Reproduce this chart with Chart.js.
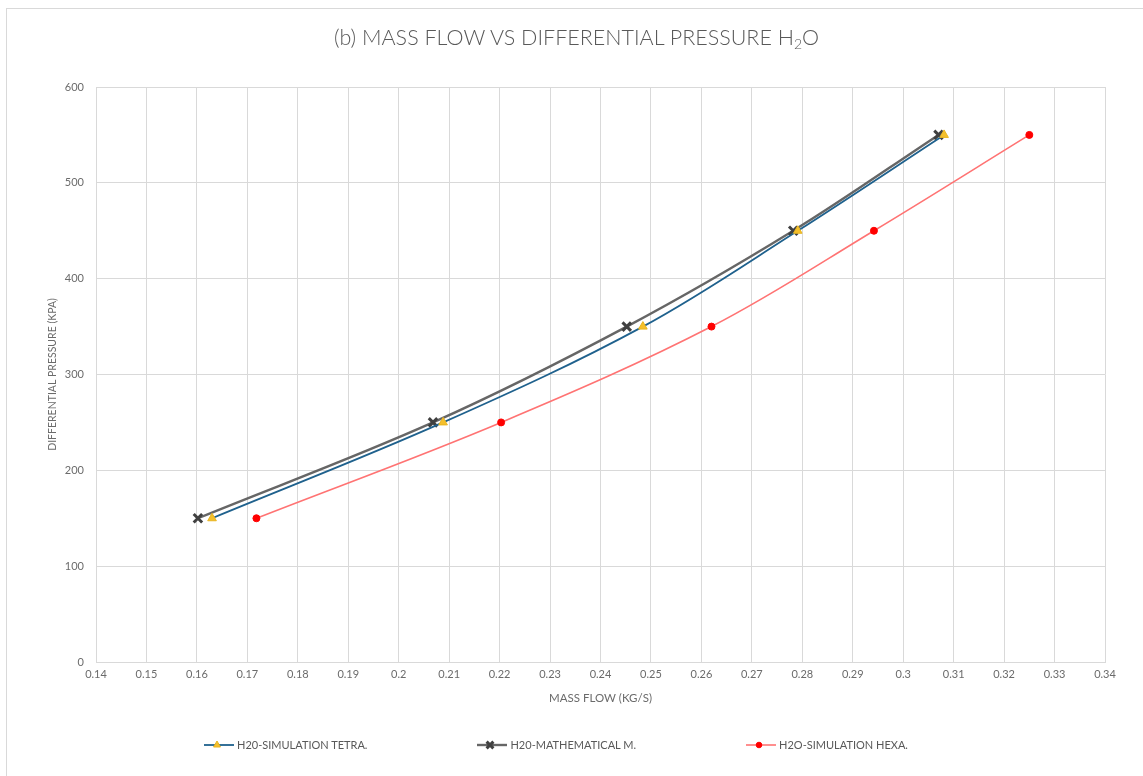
<!DOCTYPE html>
<html>
<head>
<meta charset="utf-8">
<script src="https://cdn.jsdelivr.net/npm/chart.js@4.4.1/dist/chart.umd.min.js"></script>
<style>
    body { margin: 0; background: #fff; }
    #wrap { position: relative; width: 1143px; height: 776px; overflow: hidden; font-family: Lato, "Open Sans", sans-serif; }
    #frame { position: absolute; left: 6px; top: 8px; width: 1200px; height: 800px; border-left: 1px solid #d9d9d9; border-top: 1px solid #d9d9d9; }
    #chart { position: absolute; left: 0; top: 0; }
    #title { position: absolute; left: 0; width: 1153px; top: 24px; text-align: center; font-size: 21.5px; font-weight: 300; color: #595959; }
    #title sub { font-size: 14px; vertical-align: -4px; line-height: 0; }
    #legend { position: absolute; left: 204px; top: 738px; display: flex; gap: 110px; font-size: 11px; color: #595959; }
    .item { display: flex; align-items: center; }
    .item canvas { margin-right: 3px; }
</style>
</head>
<body>
<div id="wrap">
    <div id="frame"></div>
    <canvas id="chart" width="1143" height="776"></canvas>
    <div id="title">(b) MASS FLOW VS DIFFERENTIAL PRESSURE H<sub>2</sub>O</div>
    <div id="legend"></div>
</div>
<script>
// values
let pressure = [150, 250, 350, 450, 550];
let flowTetra = [0.163, 0.2088, 0.2484, 0.2791, 0.3081];
let flowMath = [0.1602, 0.2068, 0.2452, 0.2782, 0.3070];
let flowHexa = [0.1718, 0.2203, 0.2620, 0.2942, 0.3250];
let seriesNames = ["H20-SIMULATION TETRA.", "H20-MATHEMATICAL M.", "H2O-SIMULATION HEXA."];

function toPoints(xs) {
    let pts = new Array();
    for (let i = 0; i < xs.length; i++) {
        pts.push({ x: xs[i], y: pressure[i] });
    }
    return pts;
}

let styles = [
    { line: "#1f618d", lineW: 1.8, marker: "triangle", fill: "#f5c02c", stroke: "#e8b520", r: 5, mw: 1 },
    { line: "#666666", lineW: 2.4, marker: "crossRot", fill: "#404040", stroke: "#404040", r: 6, mw: 3 },
    { line: "#ff7373", lineW: 1.6, marker: "circle", fill: "#ff0000", stroke: "#ff0000", r: 3.5, mw: 1 }
];
let flows = [flowTetra, flowMath, flowHexa];

let datasets = [];
for (let i = 0; i < 3; i++) {
    let s = styles[i];
    datasets.push({
        label: seriesNames[i],
        data: toPoints(flows[i]),
        showLine: true,
        tension: 0.35,
        borderColor: s.line,
        borderWidth: s.lineW,
        pointStyle: s.marker,
        pointRadius: s.r,
        pointBackgroundColor: s.fill,
        pointBorderColor: s.stroke,
        pointBorderWidth: s.mw
    });
}

let tickColor = "#6b6b6b";
let gridColor = "#d9d9d9";

let chart = new Chart(document.getElementById("chart"), {
    type: "scatter",
    data: { datasets: datasets },
    options: {
        responsive: false,
        animation: false,
        layout: { padding: { left: 6, top: 87, right: 38, bottom: 64 } },
        plugins: { legend: { display: false }, tooltip: { enabled: false } },
        scales: {
            x: {
                min: 0.14, max: 0.34,
                ticks: {
                    stepSize: 0.01, color: tickColor, padding: 6,
                    font: { family: "Lato", size: 11 },
                    maxRotation: 0, autoSkip: false,
                    callback: function (v) { return String(parseFloat(v.toFixed(2))); }
                },
                grid: { color: gridColor, lineWidth: 1, drawTicks: false },
                border: { color: gridColor },
                title: {
                    display: true, text: "MASS FLOW (KG/S)", color: tickColor,
                    font: { family: "Lato", size: 11.5 }, padding: { top: 0, bottom: 7 }
                },
                afterFit: function (scale) { scale.height = 50; }
            },
            y: {
                min: 0, max: 600,
                ticks: {
                    stepSize: 100, color: tickColor, padding: 12,
                    font: { family: "Lato", size: 11 }
                },
                grid: { color: gridColor, lineWidth: 1, drawTicks: false },
                border: { color: gridColor },
                title: {
                    display: true, text: "DIFFERENTIAL PRESSURE (KPA)", color: tickColor,
                    font: { family: "Lato", size: 10.5 }, padding: { top: 40, bottom: 0 }
                },
                afterFit: function (scale) { scale.width = 90; }
            }
        }
    }
});

// legend: line with the series marker, then the name
let legend = document.getElementById("legend");
for (let i = 0; i < 3; i++) {
    let s = styles[i];
    let item = document.createElement("div");
    item.className = "item";
    let c = document.createElement("canvas");
    c.width = 30; c.height = 12;
    let ctx = c.getContext("2d");
    ctx.strokeStyle = s.line;
    ctx.lineWidth = s.lineW;
    ctx.beginPath(); ctx.moveTo(0, 6); ctx.lineTo(30, 6); ctx.stroke();
    ctx.fillStyle = s.fill;
    ctx.strokeStyle = s.stroke;
    ctx.lineWidth = s.mw;
    Chart.helpers.drawPoint(ctx, { pointStyle: s.marker, radius: s.r * 0.8, borderWidth: s.mw }, 13, 6);
    let span = document.createElement("span");
    span.textContent = seriesNames[i];
    item.appendChild(c);
    item.appendChild(span);
    legend.appendChild(item);
}
</script>
</body>
</html>
